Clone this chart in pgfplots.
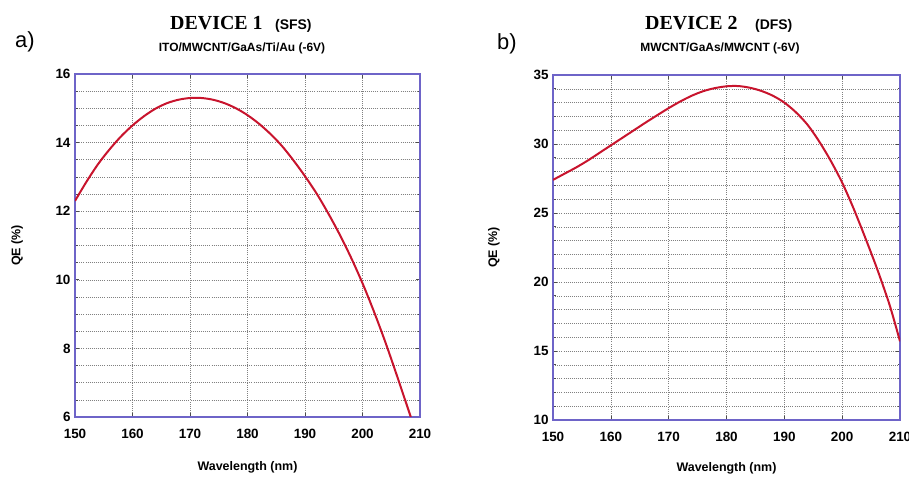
\documentclass[border=0pt]{standalone}
\usepackage{fontspec}
\setmainfont{Liberation Sans}
\newfontfamily\serifb{Liberation Serif}
\usepackage{pgfplots}
\pgfplotsset{compat=1.18}

\definecolor{axcol}{RGB}{110,100,200}
\definecolor{curvecol}{RGB}{200,20,45}

\pgfplotsset{qe/.style={
  scale only axis, anchor=south west,
  xmin=150, xmax=210, xtick={150,160,...,210},
  grid=both,
  major grid style={black!50, line width=0.5bp, dash pattern=on 0.8bp off 1.3bp},
  minor grid style={black!50, line width=0.5bp, dash pattern=on 0.8bp off 1.3bp},
  axis line style={axcol, line width=1.4bp},
  tick align=inside, tick style={black!70, line width=0.6bp},
  major tick length=4bp, minor tick length=2.5bp,
  ticklabel style={font=\bfseries\fontsize{13.5}{13.5}\selectfont},
  /pgf/number format/assume math mode=true,
  xticklabel style={yshift=-9bp},
  yticklabel style={xshift=-1bp},
  label style={font=\bfseries\fontsize{12.5}{12.5}\selectfont},
  xlabel={Wavelength (nm)},
  ylabel={QE (\%)},
}}

\begin{document}
\begin{tikzpicture}[x=1bp,y=1bp]
\path[use as bounding box] (0bp,0bp) rectangle (909bp,477bp);

\begin{axis}[qe, at={(75bp,60bp)}, width=345bp, height=343bp,
  ymin=6, ymax=16, ytick={6,8,...,16}, minor y tick num=3,
  xlabel style={at={(axis description cs:0.5,-0.146)}, anchor=center},
  ylabel style={at={(axis description cs:-0.168,0.5)}, anchor=center}]
\addplot[curvecol, line width=2bp, smooth] coordinates {
(150,12.3) (152,12.86) (154,13.37) (156,13.8) (158,14.18) (160,14.5)
(162,14.77) (164,14.99) (166,15.15) (168,15.25) (170,15.3) (172,15.3)
(174,15.25) (176,15.15) (178,15.0) (180,14.8) (182,14.55) (184,14.25)
(186,13.9) (188,13.48) (190,13.02) (192,12.52) (194,11.95) (196,11.33)
(198,10.65) (200,9.9) (202,9.07) (204,8.17) (206,7.2) (208,6.2) (208.4,6.0)};
\end{axis}

\begin{axis}[qe, at={(553bp,57bp)}, width=347bp, height=345bp,
  ymin=10, ymax=35, ytick={10,15,...,35}, minor y tick num=4,
  xlabel style={at={(axis description cs:0.5,-0.139)}, anchor=center},
  ylabel style={at={(axis description cs:-0.170,0.5)}, anchor=center}]
\addplot[curvecol, line width=2bp, smooth] coordinates {
(150,27.4) (152,27.85) (154,28.3) (156,28.8) (158,29.35) (160,29.9)
(162,30.45) (164,31.0) (166,31.55) (168,32.08) (170,32.6) (172,33.08)
(174,33.5) (176,33.83) (178,34.05) (180,34.18) (182,34.2) (184,34.08)
(186,33.85) (188,33.5) (190,33.0) (192,32.3) (194,31.4) (196,30.2)
(198,28.8) (200,27.2) (202,25.3) (204,23.2) (206,21.0) (208,18.6)
(209,17.2) (210,15.7)};
\end{axis}

\node[anchor=base west, font=\serifb\bfseries\fontsize{20}{20}\selectfont, inner sep=0] at (170bp,447bp) {DEVICE 1};
\node[anchor=base west, font=\bfseries\fontsize{14}{14}\selectfont, inner sep=0] at (275bp,447bp) {(SFS)};
\node[anchor=base, font=\bfseries\fontsize{12}{12}\selectfont, inner sep=0] at (242bp,425bp) {ITO/MWCNT/GaAs/Ti/Au (-6V)};
\node[anchor=base west, font=\fontsize{22}{22}\selectfont, inner sep=0] at (15bp,429bp) {a)};

\node[anchor=base west, font=\serifb\bfseries\fontsize{20}{20}\selectfont, inner sep=0] at (645bp,447bp) {DEVICE 2};
\node[anchor=base west, font=\bfseries\fontsize{14}{14}\selectfont, inner sep=0] at (755bp,447bp) {(DFS)};
\node[anchor=base, font=\bfseries\fontsize{12}{12}\selectfont, inner sep=0] at (720bp,425bp) {MWCNT/GaAs/MWCNT (-6V)};
\node[anchor=base west, font=\fontsize{22}{22}\selectfont, inner sep=0] at (497bp,427bp) {b)};
\end{tikzpicture}
\end{document}
